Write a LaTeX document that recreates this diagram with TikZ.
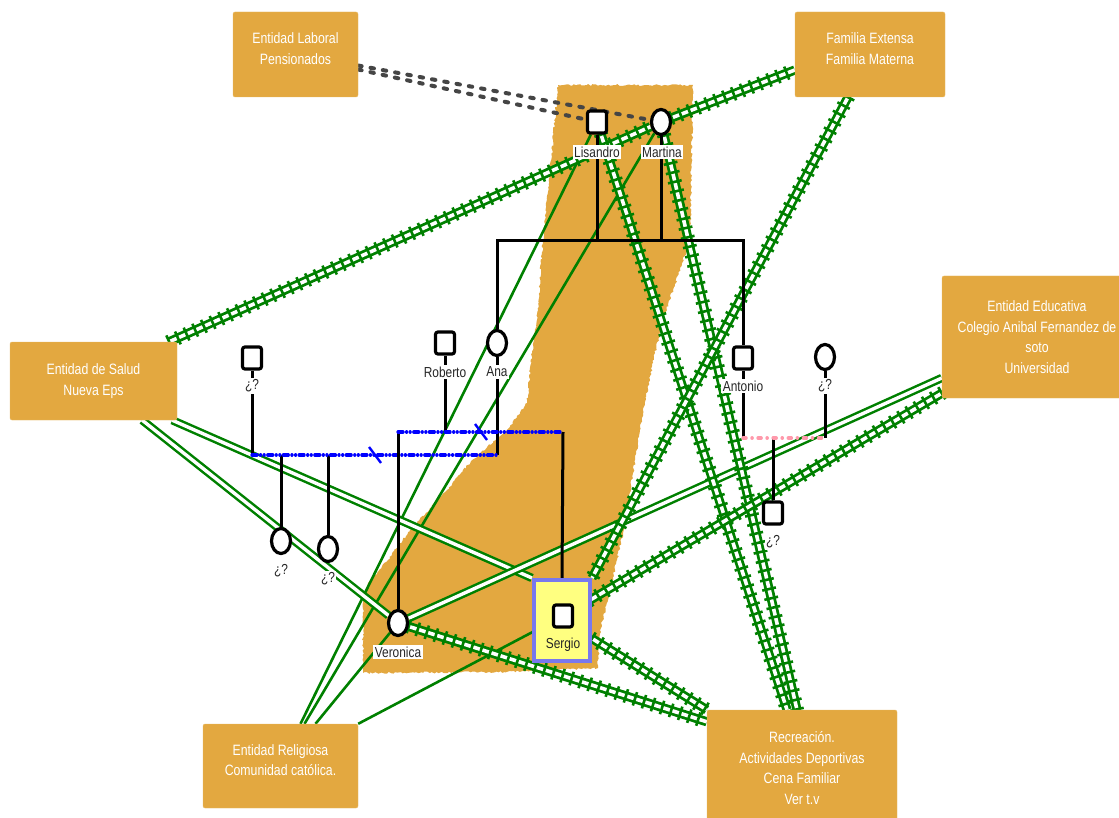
\documentclass[tikz,border=0pt]{standalone}
\usepackage{fontspec}
\setmainfont{Liberation Sans}[FakeStretch=0.82]
\usepackage{tikz}
\usetikzlibrary{shapes.geometric,decorations.pathmorphing,decorations.pathreplacing}
\usepackage{color}
\definecolor{boxorange}{rgb}{0.89, 0.66, 0.25}
\definecolor{tiegreen}{rgb}{0, 0.5, 0}
\definecolor{linkgray}{rgb}{0.27, 0.27, 0.27}
\definecolor{unionblue}{rgb}{0, 0, 1}
\definecolor{unionpink}{rgb}{1, 0.6, 0.67}
\definecolor{selfyellow}{rgb}{1, 1, 0.5}
\definecolor{selfborder}{rgb}{0.47, 0.47, 0.93}

\pgfdeclarelayer{household}
\pgfdeclarelayer{ties}
\pgfsetlayers{household,ties,main}

\tikzset{
  entity/.style={fill=boxorange, draw=boxorange!80!white, rounded corners=2pt, text=white, align=center,
    inner sep=0pt, font=\fontsize{15}{20.5}\selectfont},
  male/.style={draw, line width=3.2pt, fill=white, rounded corners=2.5pt, minimum width=19pt, minimum height=22pt, inner sep=0pt},
  female/.style={draw, line width=3.2pt, fill=white, ellipse, minimum width=19pt, minimum height=25pt, inner sep=0pt},
  selfbox/.style={draw=selfborder, line width=4pt, fill=selfyellow, minimum width=56pt, minimum height=81pt, inner sep=0pt},
  who/.style={fill=white, inner xsep=1.5pt, inner ysep=1.5pt, text=black!85, font=\fontsize{14.5}{14.5}\selectfont},
  kin/.style={line width=3pt},
  strongtie/.style={draw=tiegreen, line width=2.8pt, double=white, double distance=3.6pt,
    postaction={decorate, draw=tiegreen, line width=2.6pt, decoration={ticks, segment length=9.5pt, amplitude=7pt}}},
  normaltie/.style={draw=tiegreen, line width=2.5pt, double=white, double distance=3.4pt},
  weaktie/.style={draw=tiegreen, line width=2.6pt},
  worktie/.style={draw=linkgray, line width=4pt, line cap=round, dash pattern=on 3.5pt off 9pt},
  bluebond/.style={draw=unionblue, line width=3.2pt, line cap=round, dash pattern=on 5pt off 3.5pt on 0.1pt off 3.5pt on 0.1pt off 3.5pt},
  pinkbond/.style={draw=unionpink, line width=3.5pt, line cap=round, dash pattern=on 3pt off 6pt on 0.1pt off 6pt},
  breakmark/.style={draw=unionblue, line width=2.4pt}
}

\begin{document}
\begin{tikzpicture}[x=1pt, y=-1pt]
  \useasboundingbox (0,0) rectangle (1119,818);
  \clip (0,0) rectangle (1119,818);

  % draws the entities
  \node[entity, minimum width=125pt, minimum height=85pt, text depth=12pt] (lab) at (295.5,54.5) {Entidad Laboral\\Pensionados};
  \node[entity, minimum width=150pt, minimum height=85pt, text depth=12pt] (fam) at (870,54.5) {Familia Extensa\\Familia Materna};
  \node[entity, minimum width=190pt, minimum height=122pt] (edu) at (1037,337) {Entidad Educativa\\Colegio Anibal Fernandez de\\soto\\Universidad};
  \node[entity, minimum width=167pt, minimum height=78pt] (sal) at (93.5,381) {Entidad de Salud\\Nueva Eps};
  \node[entity, minimum width=155pt, minimum height=84pt, text depth=12pt] (rel) at (280.5,766) {Entidad Religiosa\\Comunidad católica.};
  \node[entity, minimum width=190pt, minimum height=116pt] (rec) at (802,768) {Recreación.\\Actividades Deportivas\\Cena Familiar\\Ver t.v};

  % draws the people
  \node[male] (lis) at (597,122) {};
  \node[female] (mar) at (661,122) {};
  \node[male] (rob) at (445,343) {};
  \node[female] (ana) at (497,343) {};
  \node[male] (unk1) at (252,358) {};
  \node[female] (unk2) at (281,541) {};
  \node[female] (unk3) at (328,549) {};
  \node[male] (ant) at (743,358) {};
  \node[female] (unk4) at (825,357) {};
  \node[male] (unk5) at (773,513) {};
  \node[female] (ver) at (398,623) {};
  \node[selfbox] (serbox) at (562,620.5) {};
  \node[male] (ser) at (563,616) {};

  % draws the names
  \node[who] (lisname) at (597,152) {Lisandro};
  \node[who] (marname) at (662,152) {Martina};
  \node[who] (robname) at (445,372) {Roberto};
  \node[who] (ananame) at (497,372) {Ana};
  \node[who] (unk1name) at (252,386) {¿?};
  \node[who] (unk2name) at (281,571) {¿?};
  \node[who] (unk3name) at (328,579) {¿?};
  \node[who] (antname) at (743,386) {Antonio};
  \node[who] (unk4name) at (825,386) {¿?};
  \node[who] (unk5name) at (773,542) {¿?};
  \node[who] (vername) at (398,652) {Veronica};
  \node[who, fill=selfyellow] (sername) at (563,645) {Sergio};

  % draws the household
  \begin{pgfonlayer}{household}
    \fill[boxorange, decorate, decoration={random steps, segment length=2pt, amplitude=1pt}]
      (558,85) -- (693,85) -- (692,140) -- (690,240) -- (673,290) -- (665,313) -- (655,353)
      -- (643,413) -- (633,473) -- (623,533) -- (617,560) -- (608,600) -- (600,630) -- (598,668)
      -- (505,672) -- (363,673) -- (363,600) -- (368,583) -- (388,560) -- (410,530) -- (430,508)
      -- (447,490) -- (463,470) -- (480,453) -- (507,430) -- (527,403) -- (532,353) -- (537,320)
      -- (543,240) -- (553,140) -- cycle;
  \end{pgfonlayer}

  \begin{pgfonlayer}{ties}
    % draws the ties
    \draw[worktie] ([yshift=-15pt]lab.east) -- (lis);
    \draw[worktie] ([yshift=-11pt]lab.east) -- (mar);
    \draw[weaktie] ([xshift=20pt]rel.north) -- (lis);
    \draw[weaktie] ([xshift=24pt]rel.north) -- (mar);
    \draw[weaktie] ([xshift=35pt]rel.north) -- (ver);
    \draw[weaktie] (rel.north east) -- (ser);
    \draw[normaltie] ([xshift=-35pt]sal.south east) -- (ver);
    \draw[normaltie] ([xshift=-5pt]sal.south east) -- (serbox.north west);
    \draw[normaltie] ([yshift=-41pt]edu.west) -- (ver);
    \draw[strongtie] ([xshift=-8pt]sal.north east) -- (mar);
    \draw[strongtie] (mar) -- ([yshift=-15.5pt]fam.west);
    \draw[strongtie] (lis) -- ([xshift=-15pt]rec.north);
    \draw[strongtie] (mar) -- ([xshift=-5pt]rec.north);
    \draw[strongtie] ([xshift=-22pt]fam.south) -- (serbox.north east);
    \draw[strongtie] ([yshift=5pt]edu.south west) -- (ser);
    \draw[strongtie] (ver) -- ([yshift=-12pt]rec.north west);
    \draw[strongtie] ([yshift=-18pt]serbox.east) -- (rec.north west);

    % draws the family lines
    \coordinate (sibl) at (497,241);
    \coordinate (sibr) at (743,241);
    \coordinate (bond1l) at (252,455);
    \coordinate (bond1r) at (497,455);
    \coordinate (bond2l) at (398,432);
    \coordinate (bond2r) at (563,432);
    \coordinate (bond3l) at (743,438);
    \coordinate (bond3r) at (825,438);
    \coordinate (brk1) at (375,455);
    \coordinate (brk2) at (481,432);

    \draw[kin] (lis.south) -- (lis.south |- sibl);
    \draw[kin] (mar.south) -- (mar.south |- sibl);
    \draw[kin] (ana.north) -- (sibl) -- (sibr) -- (ant.north);

    \draw[kin] (unk1.south) -- (bond1l);
    \draw[kin] (ana.south) -- (bond1r);
    \draw[kin] (unk2.north |- bond1l) -- (unk2.north);
    \draw[kin] (unk3.north |- bond1l) -- (unk3.north);
    \draw[bluebond] (bond1l) -- (bond1r);
    \draw[breakmark] ([shift={(-6,-8)}]brk1) -- ([shift={(6,8)}]brk1);

    \draw[kin] (rob.south) -- (rob.south |- bond2l);
    \draw[kin] (bond2l) -- (ver.north);
    \draw[kin] (bond2r) -- (serbox.north);
    \draw[bluebond] (bond2l) -- (bond2r);
    \draw[breakmark] ([shift={(-6,-8)}]brk2) -- ([shift={(6,8)}]brk2);

    \draw[kin] (ant.south) -- (bond3l);
    \draw[kin] (unk4.south) -- (bond3r);
    \draw[kin] (unk5.north |- bond3l) -- (unk5.north);
    \draw[pinkbond] (bond3l) -- (bond3r);
  \end{pgfonlayer}
\end{tikzpicture}
\end{document}
